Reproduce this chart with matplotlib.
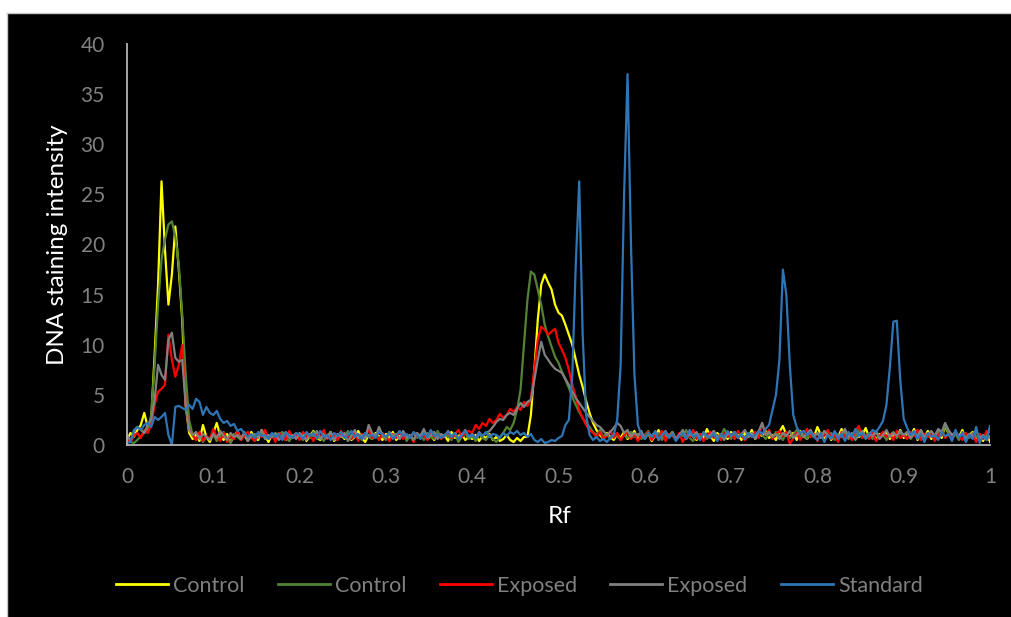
import numpy as np
import matplotlib
matplotlib.use("Agg")
import matplotlib.pyplot as plt
from matplotlib.patches import Rectangle
from matplotlib.lines import Line2D

# Rf positions (common sampling grid of the densitometry scans)
rf = np.round(np.linspace(0, 1, 251), 3)

control_yellow = [
    0.5, 1.2, 0.8, 1.5, 2.0, 3.2, 1.8, 2.5, 9.0, 16.0, 26.3, 19.5, 14.0, 17.0, 21.8, 17.5, 12.5, 4.0, 1.2, 0.6, 1.0, 0.4, 2.0, 0.8, 0.3,
    1.2, 2.2, 0.9, 0.5, 1.1, 0.3, 0.8, 1.4, 0.6, 1.0, 0.4, 1.3, 0.7, 0.5, 1.5, 0.9, 0.3, 1.1, 0.6, 1.2, 0.8, 0.5, 1.3, 0.7, 1.0,
    0.6, 1.2, 0.4, 0.9, 1.4, 0.7, 0.5, 1.1, 0.8, 1.3, 0.4, 0.9, 1.0, 0.6, 1.2, 0.5, 0.8, 1.4, 0.7, 0.3, 1.0, 0.6, 1.2, 0.9, 0.5,
    1.1, 0.7, 1.3, 0.5, 0.9, 1.2, 0.6, 1.0, 0.4, 1.1, 0.8, 1.4, 0.6, 0.9, 0.5, 1.2, 0.8, 1.0, 0.4, 1.3, 0.7, 0.9, 1.1, 0.5, 0.8,
    0.6, 1.0, 0.4, 0.9, 0.7, 1.1, 0.5, 0.8, 0.4, 0.6, 1.0, 0.5, 0.3, 0.7, 0.4, 0.8, 0.8, 3.0, 7.5, 12.5, 16.0, 17.0, 16.2, 15.5, 14.0,
    13.2, 12.9, 12.0, 11.0, 10.0, 8.5, 7.0, 5.8, 4.4, 3.2, 2.2, 1.5, 1.0, 0.6, 1.2, 0.8, 0.5, 1.1, 0.7, 1.3, 0.6, 0.9, 1.4, 0.5, 1.0,
    0.7, 1.2, 0.4, 0.9, 1.5, 0.6, 1.0, 0.8, 1.3, 0.5, 0.9, 1.2, 0.6, 1.4, 0.8, 0.5, 1.1, 0.7, 1.6, 0.9, 0.4, 1.2, 0.8, 1.0, 0.6,
    1.3, 0.7, 1.0, 0.5, 1.2, 0.8, 1.5, 0.6, 1.1, 0.9, 1.4, 0.7, 1.0, 0.5, 1.3, 1.9, 1.0, 0.8, 1.2, 0.5, 1.4, 0.9, 0.6, 1.1, 0.8,
    1.8, 1.0, 0.7, 1.3, 0.5, 1.1, 0.8, 1.6, 0.9, 1.2, 0.6, 1.4, 0.8, 1.0, 1.7, 0.7, 1.2, 0.5, 1.1, 0.9, 1.3, 0.6, 1.0, 0.8, 1.5,
    0.7, 1.2, 0.9, 1.6, 0.5, 1.1, 0.8, 1.4, 0.6, 1.0, 1.3, 0.7, 1.9, 1.1, 0.6, 1.2, 0.8, 1.5, 0.5, 1.0, 1.3, 0.7, 1.1, 0.4, 1.2,
    0.3,
]

control_green = [
    0.8, 0.3, 0.2, 0.5, 0.9, 1.2, 1.5, 3.0, 8.0, 14.0, 18.5, 20.5, 22.0, 22.3, 20.8, 18.0, 13.0, 7.0, 2.5, 1.0, 0.5, 1.2, 0.3, 0.8, 0.6,
    1.0, 0.4, 0.9, 1.3, 0.6, 0.2, 1.1, 0.8, 0.5, 1.2, 0.7, 1.0, 0.4, 0.9, 1.4, 0.6, 0.8, 1.1, 0.5, 1.0, 1.3, 0.7, 0.4, 0.9, 1.2,
    0.8, 0.5, 1.1, 0.7, 1.3, 0.6, 0.9, 0.4, 1.0, 1.2, 0.7, 0.5, 1.1, 0.8, 1.4, 0.6, 0.9, 1.0, 0.5, 1.2, 0.8, 0.6, 1.1, 0.7, 0.9,
    0.5, 1.2, 0.8, 1.0, 0.6, 1.3, 0.4, 0.9, 1.1, 0.7, 1.0, 0.5, 1.2, 0.8, 0.6, 1.4, 0.7, 1.0, 0.9, 0.5, 1.1, 0.3, 0.8, 1.2, 0.6,
    0.9, 0.4, 1.1, 0.7, 0.5, 1.0, 0.6, 0.3, 0.8, 1.2, 1.8, 1.5, 2.2, 3.5, 5.5, 10.0, 14.5, 17.3, 17.0, 15.5, 14.0, 12.0, 10.8, 9.8, 8.8,
    8.2, 7.3, 6.5, 5.7, 4.8, 4.0, 3.3, 2.7, 2.2, 1.8, 1.3, 1.0, 1.5, 0.8, 1.1, 0.6, 1.2, 0.9, 0.5, 1.0, 0.7, 1.3, 0.8, 1.1, 0.6,
    1.0, 1.4, 0.7, 0.9, 1.2, 0.5, 1.1, 0.8, 1.3, 0.6, 1.0, 0.9, 1.5, 0.7, 0.4, 1.1, 0.8, 1.2, 0.6, 1.0, 1.4, 0.7, 0.9, 1.6, 1.0,
    0.6, 1.3, 0.8, 1.1, 0.5, 0.9, 1.2, 0.7, 1.4, 1.0, 0.6, 1.1, 0.8, 1.3, 0.9, 0.5, 1.2, 0.7, 1.0, 1.5, 0.8, 1.1, 0.6, 1.3, 0.9,
    1.1, 0.7, 1.4, 0.9, 1.2, 0.5, 1.0, 0.8, 1.3, 0.6, 1.1, 0.9, 1.5, 0.7, 1.0, 1.2, 0.6, 1.4, 0.8, 1.1, 0.5, 1.0, 1.3, 0.7, 1.2,
    0.9, 1.3, 0.6, 1.1, 0.8, 1.5, 0.7, 1.2, 1.0, 0.6, 1.4, 0.9, 2.0, 1.2, 0.8, 1.1, 0.5, 1.3, 0.9, 0.7, 1.2, 0.8, 1.0, 0.6, 1.1,
    0.8,
]

exposed_red = [
    0.6, 0.3, 0.9, 1.2, 0.7, 1.5, 1.2, 2.0, 4.0, 5.3, 5.6, 6.0, 11.0, 8.5, 6.8, 8.0, 10.0, 4.0, 1.5, 1.0, 0.5, 1.3, 0.4, 0.9, 0.6,
    1.6, 0.8, 0.4, 1.2, 0.3, 1.0, 0.6, 1.4, 0.5, 0.9, 1.3, 0.7, 0.4, 1.1, 0.8, 1.5, 0.6, 1.0, 0.3, 1.2, 0.9, 0.5, 1.4, 0.7, 1.1,
    0.5, 1.3, 0.8, 1.0, 0.4, 1.2, 0.7, 1.5, 0.6, 0.9, 1.1, 0.5, 1.4, 0.8, 1.0, 0.6, 1.3, 0.4, 1.1, 0.9, 1.5, 0.7, 1.0, 0.5, 1.2,
    0.8, 0.4, 1.1, 0.7, 1.3, 0.6, 1.0, 0.9, 0.3, 1.2, 0.7, 1.0, 0.5, 1.4, 0.8, 1.1, 0.6, 0.9, 1.3, 0.7, 1.0, 1.5, 0.8, 1.2, 1.4,
    1.2, 2.0, 1.6, 2.2, 1.9, 2.6, 2.2, 2.5, 3.1, 2.7, 3.0, 3.6, 3.3, 3.8, 3.5, 4.3, 3.9, 4.6, 7.5, 10.5, 11.8, 11.5, 11.0, 11.3, 11.6,
    10.2, 9.5, 8.7, 7.5, 6.0, 4.8, 3.5, 2.7, 2.0, 1.5, 1.2, 0.8, 1.3, 0.6, 0.9, 1.4, 0.7, 1.2, 0.5, 1.0, 1.3, 0.6, 1.1, 0.4, 1.0,
    0.8, 1.3, 0.5, 1.0, 0.7, 1.4, 0.4, 1.1, 0.9, 0.6, 1.2, 0.3, 1.0, 0.8, 1.5, 0.6, 1.1, 0.4, 0.9, 1.3, 0.7, 1.0, 0.5, 1.2, 0.8,
    1.1, 0.6, 1.4, 0.9, 0.5, 1.2, 0.8, 1.3, 0.7, 2.2, 1.0, 1.5, 0.6, 1.1, 1.4, 0.9, 1.3, 0.1, 0.7, 1.2, 0.5, 1.0, 1.6, 0.8, 1.1,
    0.4, 1.2, 0.9, 1.5, 0.6, 1.0, 0.3, 1.3, 0.8, 1.1, 0.5, 1.4, 1.9, 0.7, 1.0, 0.6, 1.2, 0.4, 0.9, 1.3, 0.8, 1.1, 0.5, 1.4, 0.7,
    1.0, 0.6, 1.3, 0.9, 1.5, 0.5, 1.1, 0.8, 1.2, 0.4, 1.0, 1.4, 0.7, 1.1, 0.6, 1.3, 0.9, 0.5, 1.2, 0.8, 1.0, 0.3, 1.1, 0.6, 1.4,
    1.3,
]

exposed_gray = [
    1.0, 0.4, 1.3, 1.8, 1.5, 1.2, 2.0, 2.5, 4.5, 8.0, 7.0, 6.5, 10.5, 11.2, 8.7, 8.3, 8.5, 4.0, 1.5, 1.0, 1.3, 0.6, 1.1, 0.8, 0.5,
    1.1, 0.7, 1.4, 0.9, 0.5, 1.2, 0.8, 1.0, 0.6, 1.3, 0.4, 0.9, 1.1, 0.7, 1.5, 0.6, 1.0, 0.8, 1.2, 0.5, 0.9, 1.3, 0.7, 1.0, 0.6,
    1.2, 0.8, 0.5, 1.1, 0.9, 1.4, 0.6, 1.0, 0.7, 1.3, 0.5, 1.1, 0.8, 1.2, 0.4, 0.9, 1.5, 0.7, 1.0, 0.6, 2.0, 1.2, 0.8, 1.8, 1.0,
    0.7, 1.3, 0.9, 1.1, 0.6, 1.4, 0.8, 1.0, 0.5, 1.2, 0.9, 1.6, 0.7, 1.0, 1.3, 0.6, 1.1, 0.8, 1.4, 0.9, 1.2, 0.7, 1.0, 1.5, 0.8,
    1.1, 0.7, 1.3, 0.9, 1.2, 1.4, 1.8, 2.3, 2.6, 2.5, 3.0, 3.2, 3.0, 3.6, 4.2, 3.8, 4.3, 4.5, 6.5, 8.5, 10.3, 9.0, 8.5, 8.0, 7.6,
    7.4, 7.2, 6.6, 6.0, 5.3, 4.7, 4.2, 3.7, 3.2, 2.8, 2.4, 2.0, 1.8, 1.4, 1.0, 1.3, 1.7, 2.2, 1.9, 1.2, 1.5, 0.8, 1.2, 0.9, 1.4,
    0.6, 1.1, 0.9, 1.3, 0.5, 1.0, 1.4, 0.8, 1.2, 0.6, 1.0, 1.5, 0.7, 1.1, 0.9, 1.3, 0.6, 1.2, 0.8, 1.0, 1.4, 0.7, 1.1, 0.5, 1.2,
    0.9, 1.3, 0.7, 1.1, 1.5, 0.8, 1.2, 0.6, 1.4, 2.2, 1.0, 1.3, 0.8, 1.1, 0.6, 1.2, 0.9, 1.4, 0.7, 1.0, 1.3, 0.8, 1.1, 1.5, 0.9,
    1.2, 0.7, 1.4, 1.0, 0.6, 1.3, 0.9, 1.1, 1.6, 0.8, 1.2, 0.5, 1.0, 1.4, 0.7, 1.1, 0.9, 1.3, 0.6, 1.0, 1.5, 0.8, 1.2, 0.9, 1.4,
    1.0, 1.3, 0.7, 1.2, 0.9, 1.5, 0.8, 1.1, 1.4, 0.9, 1.6, 1.3, 2.2, 1.5, 1.0, 1.3, 0.8, 1.2, 0.6, 1.1, 0.9, 1.4, 0.7, 1.0, 0.5,
    0.8,
]

standard_blue = [
    0.2, 0.3, 1.5, 1.8, 1.5, 2.0, 2.2, 1.8, 2.8, 2.5, 2.8, 3.2, 1.0, 0.0, 3.8, 3.9, 3.7, 3.5, 4.0, 3.6, 4.6, 4.3, 3.0, 3.8, 3.2,
    3.0, 3.4, 2.6, 2.2, 2.4, 1.9, 2.1, 1.4, 1.6, 1.2, 0.8, 1.1, 0.7, 1.3, 0.9, 1.0, 0.6, 1.2, 0.8, 1.1, 0.5, 1.3, 0.9, 0.7, 1.2,
    1.0, 0.6, 1.3, 0.9, 1.1, 0.7, 1.4, 0.8, 1.0, 0.5, 1.2, 0.9, 1.3, 0.7, 1.0, 1.4, 0.8, 1.1, 0.6, 1.2, 0.9, 1.0, 0.7, 1.3, 1.1,
    0.8, 1.2, 0.6, 1.0, 1.4, 0.9, 1.1, 0.7, 1.3, 1.0, 0.6, 1.2, 0.8, 1.5, 0.9, 1.1, 0.7, 1.0, 1.3, 0.8, 1.2, 0.6, 1.0, 1.4, 0.9,
    1.0, 0.7, 1.2, 0.9, 1.3, 0.8, 1.1, 1.0, 0.7, 1.2, 0.9, 1.3, 1.1, 1.4, 1.0, 1.2, 0.8, 1.1, 0.5, 0.3, 0.6, 0.2, 0.3, 0.5, 0.4,
    0.7, 0.9, 2.0, 2.5, 7.0, 18.0, 26.3, 11.0, 3.0, 1.0, 0.5, 0.8, 0.4, 0.6, 0.3, 0.7, 1.0, 2.5, 8.0, 25.0, 37.0, 20.0, 7.0, 2.0, 1.0,
    0.6, 1.2, 0.8, 1.4, 0.5, 1.0, 1.3, 0.7, 1.1, 0.4, 0.9, 1.2, 0.6, 1.5, 0.8, 1.0, 0.5, 1.3, 0.9, 0.7, 1.2, 0.4, 1.1, 0.8, 1.4,
    0.9, 1.3, 0.7, 1.1, 0.6, 1.2, 0.8, 1.0, 1.4, 1.1, 1.6, 2.0, 3.5, 5.0, 8.5, 17.5, 15.0, 8.0, 3.0, 1.8, 1.2, 1.4, 1.0, 1.3, 0.8,
    0.5, 1.2, 0.3, 1.0, 0.7, 1.4, 0.6, 1.1, 0.4, 1.3, 0.8, 1.6, 0.9, 1.2, 0.6, 1.0, 1.5, 1.3, 1.8, 2.4, 4.0, 7.8, 12.3, 12.4, 6.5,
    2.6, 1.7, 1.0, 1.4, 0.6, 1.1, 0.3, 1.2, 0.8, 1.0, 0.5, 1.3, 0.9, 1.1, 0.4, 1.5, 0.7, 1.2, 0.3, 1.0, 0.6, 1.8, 0.2, 0.9, 0.5,
    1.9,
]

series_labels = ["Control", "Control", "Exposed", "Exposed", "Standard"]
series_colors = ["#FFFF00", "#548235", "#FF0000", "#808080", "#2E75B6"]
x_ticks = [0, 0.1, 0.2, 0.3, 0.4, 0.5, 0.6, 0.7, 0.8, 0.9, 1]
x_ticklabels = ["0", "0.1", "0.2", "0.3", "0.4", "0.5", "0.6", "0.7", "0.8", "0.9", "1"]
y_ticks = [0, 5, 10, 15, 20, 25, 30, 35, 40]

plt.rcParams['font.family'] = ['Lato', 'DejaVu Sans']

W, H = 1011, 617
fig = plt.figure(figsize=(W / 100, H / 100), dpi=100)
fig.patch.set_facecolor("white")
# black chart area (extends past right/bottom edges), thin grey frame on top/left
fig.add_artist(Rectangle((7.5 / W, -0.1), 1.2, (H - 13.5) / H + 0.1, transform=fig.transFigure,
                         facecolor="black", edgecolor="none", zorder=0))
fig.add_artist(Line2D([7 / W, 7 / W], [0, (H - 13) / H], transform=fig.transFigure,
                      color="#c8c8c8", lw=1.0, zorder=0.5))
fig.add_artist(Line2D([7 / W, 1.0], [(H - 13) / H, (H - 13) / H], transform=fig.transFigure,
                      color="#c8c8c8", lw=1.0, zorder=0.5))

ax = fig.add_axes([127 / W, (H - 445) / H, 863 / W, 401 / H])
ax.set_facecolor("none")

all_series = [control_yellow, control_green, exposed_red, exposed_gray, standard_blue]
for vals, lab, col in zip(all_series, series_labels, series_colors):
    ax.plot(rf, vals, color=col, lw=1.6, label=lab, solid_joinstyle="round")

ax.set_xlim(0, 1)
ax.set_ylim(0, 40)
ax.set_xticks(x_ticks)
ax.set_xticklabels(x_ticklabels)
ax.set_yticks(y_ticks)
ax.tick_params(axis="both", length=0, pad=16, labelsize=15, labelcolor="#808080")
for s in ["top", "right"]:
    ax.spines[s].set_visible(False)
for s in ["left", "bottom"]:
    ax.spines[s].set_color("#b4b4b4")
    ax.spines[s].set_linewidth(1.3)

fig.text(57.5 / W, (H - 245) / H, "DNA staining intensity", rotation=90, color="white",
         fontsize=17.5, ha="center", va="center")
fig.text(559.5 / W, (H - 523) / H, "Rf", color="white", fontsize=17.5, ha="center", va="baseline")

leg = fig.legend(loc="center", bbox_to_anchor=(519.5 / W, (H - 586) / H), ncol=5, frameon=False,
                 fontsize=15.5, handlelength=2.42, handletextpad=0.23, columnspacing=1.55)
for t in leg.get_texts():
    t.set_color("#808080")
for l in leg.get_lines():
    l.set_linewidth(2.0)

fig.savefig("out.png", dpi=100, facecolor=fig.get_facecolor())
